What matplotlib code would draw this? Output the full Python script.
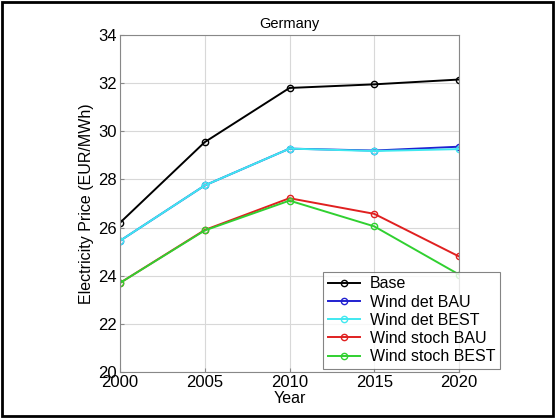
import matplotlib
matplotlib.use("Agg")
import matplotlib.pyplot as plt
from matplotlib.patches import Rectangle

plt.rcParams['font.family'] = ['Liberation Sans', 'DejaVu Sans']

years = [2000, 2005, 2010, 2015, 2020]
base = [26.2, 29.55, 31.8, 31.95, 32.15]
wind_det_bau = [25.45, 27.75, 29.28, 29.2, 29.36]
wind_det_best = [25.45, 27.75, 29.28, 29.18, 29.26]
wind_stoch_bau = [23.7, 25.9, 27.22, 26.57, 24.8]
wind_stoch_best = [23.7, 25.88, 27.12, 26.05, 24.05]

series = [
    ("Base", base, "black"),
    ("Wind det BAU", wind_det_bau, "#2020d0"),
    ("Wind det BEST", wind_det_best, "#40e8f0"),
    ("Wind stoch BAU", wind_stoch_bau, "#e02020"),
    ("Wind stoch BEST", wind_stoch_best, "#30d030"),
]

fig = plt.figure(figsize=(5.55, 4.18), dpi=100)
ax = fig.add_axes([120/555, 1-372/418, (459-120)/555, (372-35)/418])

for name, vals, c in series:
    ax.plot(years, vals, color=c, lw=1.4, marker='o', ms=4.5,
            mfc='none', mec=c, mew=1.0, label=name)

ax.set_xlim(2000, 2020)
ax.set_ylim(20, 34)
ax.set_xticks(years)
ax.set_yticks(range(20, 35, 2))
ax.grid(True, color='#d8d8d8', lw=0.8)
ax.tick_params(direction='in', labelsize=12, length=3, color='#888888', pad=2)
for s in ax.spines.values():
    s.set_color('#888888')
    s.set_linewidth(0.8)
ax.set_title("Germany", fontsize=10.5, pad=5)
ax.set_xlabel("Year", fontsize=11.5, labelpad=1)
ax.set_ylabel("Electricity Price (EUR/MWh)", fontsize=11.5, labelpad=3)

leg = ax.legend(loc='lower right', bbox_to_anchor=(500/555, 1-369/418),
                bbox_transform=fig.transFigure, fontsize=11.5, frameon=True,
                fancybox=False, edgecolor='#666666', borderpad=0.3,
                labelspacing=0.2, handlelength=2.0, handletextpad=0.6,
                borderaxespad=0)
leg.get_frame().set_linewidth(0.8)

fig.patches.append(Rectangle((2/555, 2/418), 551/555, 414/418, transform=fig.transFigure,
                             fill=False, edgecolor='black', lw=2))

fig.savefig("out.png", dpi=100)
